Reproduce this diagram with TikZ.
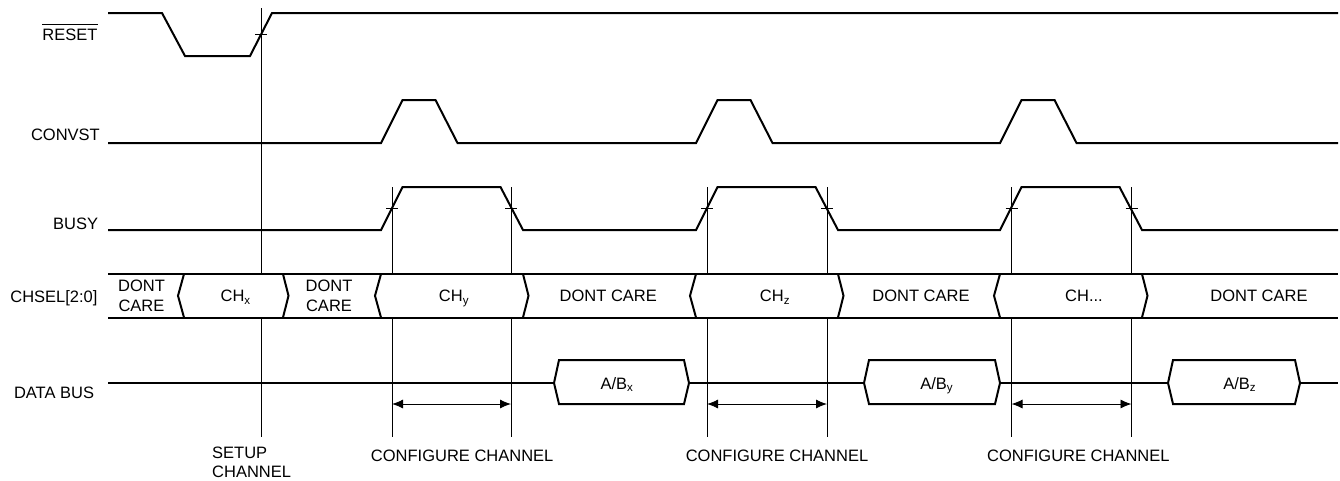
\documentclass[tikz,border=0pt]{standalone}
\usepackage{fontspec}
\setmainfont{Liberation Sans}
\usetikzlibrary{arrows.meta, positioning, calc}
\definecolor{waveEdge}{RGB}{0, 0, 0}
\definecolor{guideEdge}{RGB}{0, 0, 0}
\newcommand{\sigfont}{\fontsize{16.5}{19.5}\selectfont}
\newcommand{\activelow}[1]{%
  % #1 = signal name, with a bar over it
  \leavevmode\vbox{\hrule height 0.9pt\kern 3.6pt\hbox{#1}}%
}
\tikzset{
  wave/.style={
    draw=waveEdge, line width=2pt,
  },
  guide/.style={
    draw=guideEdge, line width=0.9pt,
  },
  crossmark/.style={
    draw=guideEdge, line width=0.9pt,
  },
  siglabel/.style={
    anchor=base east, inner sep=0pt, font=\sigfont,
  },
  buslabel/.style={
    anchor=base, inner sep=0pt, font=\sigfont,
  },
  twoline/.style={
    anchor=center, inner sep=0pt, font=\sigfont, align=center,
  },
  dimarrow/.style={
    {Latex[length=11pt, width=9pt]}-{Latex[length=11pt, width=9pt]},
    draw=guideEdge, line width=0.9pt,
  },
}

\begin{document}
\begin{tikzpicture}[x=1pt, y=-1pt]
\useasboundingbox (0,0) rectangle (1340,480);

% =========================================================================
% signal names on the left
% =========================================================================

\node[siglabel] (reset-name)  at (97.7,40)    {\activelow{RESET}};
\node[siglabel] (convst-name) at (100,140.5)  {CONVST};
\node[siglabel] (busy-name)   at (98.3,229.2) {BUSY};
\node[siglabel] (chsel-name)  at (97.7,302)   {CHSEL[2:0]};
\node[siglabel] (data-name)   at (94.3,398.6) {DATA BUS};

% =========================================================================
% guide lines (they stop at the CHSEL band)
% =========================================================================

\foreach \x/\top in {261/8, 392/187, 511/187, 707/187, 827/187, 1011.5/187, 1131.5/187}{
  \draw[guide] (\x,\top) -- (\x,274);
  \draw[guide] (\x,317.5) -- (\x,437);
}
\foreach \x/\y in {261/34.5, 392/208.5, 511/208.5, 707/208.5, 827/208.5, 1011.5/208.5, 1131.5/208.5}
  \draw[crossmark] (\x-6,\y) -- (\x+6,\y);

% =========================================================================
% waveforms
% =========================================================================

\draw[wave] (108,13) -- (162,13) -- (185,56) -- (250,56) -- (272,13) -- (1338,13);

\draw[wave] (108,143) foreach \rs in {381,696,1000}{
  -- (\rs,143) -- ++(21.5,-43) -- ++(33,0) -- ++(22,43)} -- (1338,143);

\draw[wave] (108,230) foreach \rs in {381,696,1000}{
  -- (\rs,230) -- ++(21.5,-43) -- ++(98,0) -- ++(22.5,43)} -- (1338,230);

% CHSEL band
\draw[wave] (108,274) -- (1338,274);
\draw[wave] (108,317.5) -- (1338,317.5);
\foreach \x in {184,381,696,1000}
  \draw[wave] (\x,274) -- ++(-6,21.75) -- ++(6,21.75);
\foreach \x in {283,523,838,1142}
  \draw[wave] (\x,274) -- ++(5.5,21.75) -- ++(-5.5,21.75);

\node[twoline]  (dc0) at (141.5,295.9) {DONT\\CARE};
\node[buslabel] (chx) at (235.7,301.9) {CH\textsubscript{x}};
\node[twoline]  (dc1) at (329,295.9)   {DONT\\CARE};
\node[buslabel] (chy) at (454,301.9)   {CH\textsubscript{y}};
\node[buslabel] (dc2) at (608.3,301.9) {DONT CARE};
\node[buslabel] (chz) at (775,301.9)   {CH\textsubscript{z}};
\node[buslabel] (dc3) at (921,301.9)   {DONT CARE};
\node[buslabel] (chn) at (1084,301.9)  {CH...};
\node[buslabel] (dc4) at (1259,301.9)  {DONT CARE};

% data bus
\draw[wave] (108,383) -- (1338,383);
\foreach \a/\b/\s/\tx in {554/689/x/617, 864/1000/y/936.7, 1168/1300/z/1239.7}{
  \filldraw[wave, fill=white] (\a,383) -- (\a+5,360) -- (\b-5,360) -- (\b,383)
    -- (\b-5,404) -- (\a+5,404) -- cycle;
  \node[buslabel] (ab-\s) at (\tx,389) {A/B\textsubscript{\s}};
}

% =========================================================================
% configure spans and captions
% =========================================================================

\foreach \i/\a/\b/\tx in {1/392/511/462.2, 2/707/827/777, 3/1011.5/1131.5/1078.3}{
  \coordinate (cfg\i-start) at (\a,404);
  \coordinate (cfg\i-end)   at (\b,404);
  \draw[dimarrow] (cfg\i-start) -- (cfg\i-end);
  \node[buslabel] (cfg\i-text) at (\tx,461.6) {CONFIGURE CHANNEL};
}

\node[twoline, anchor=north west, align=left] (setup-text) at (212,446.4) {SETUP\\CHANNEL};

\end{tikzpicture}
\end{document}
